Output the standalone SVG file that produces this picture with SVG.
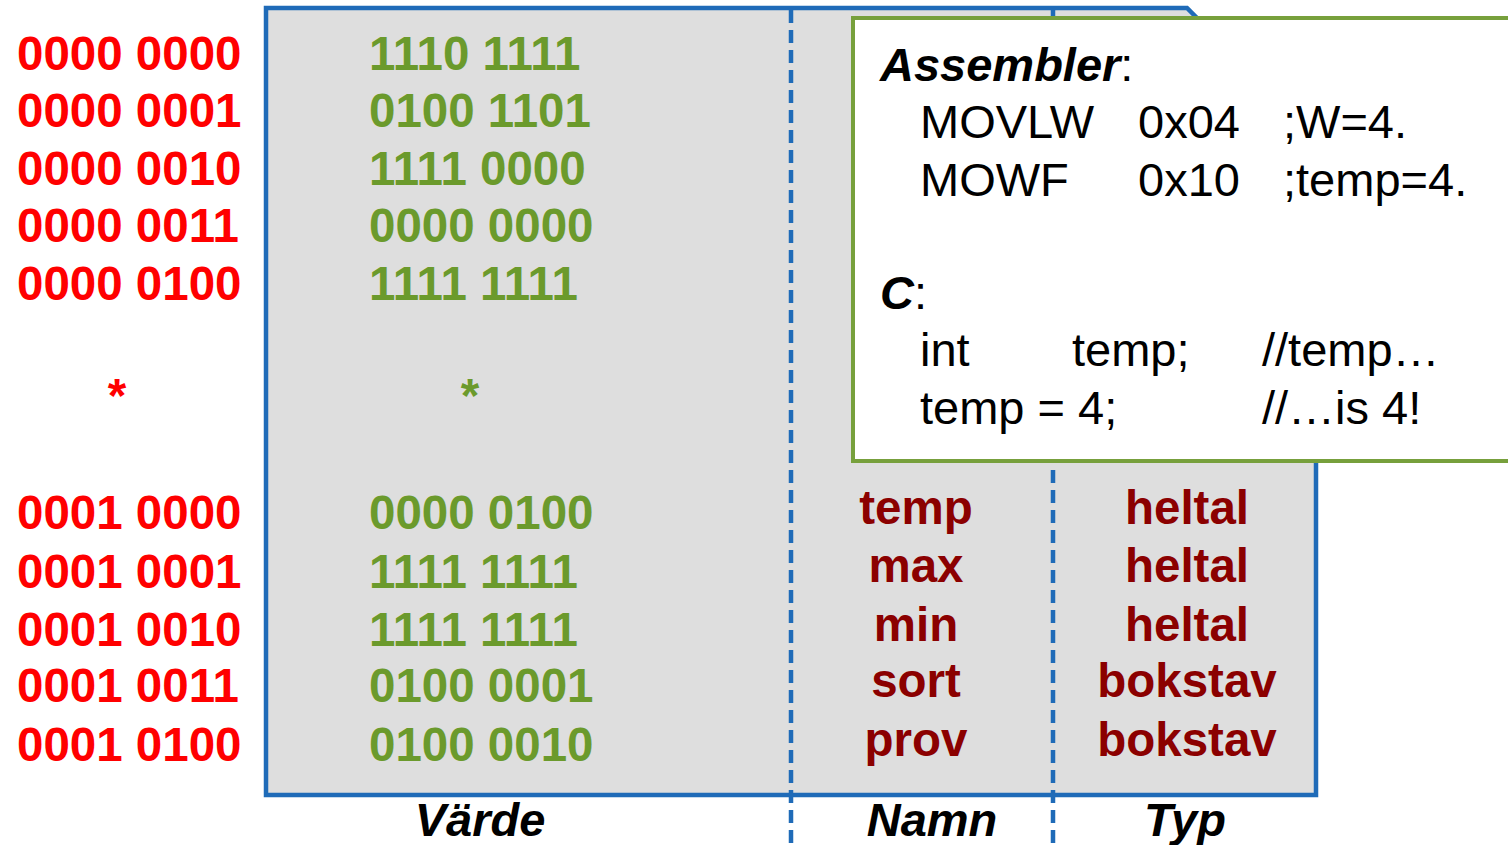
<svg xmlns="http://www.w3.org/2000/svg" width="1508" height="845" viewBox="0 0 1508 845">
  <style>
    .addr { font: bold 47.5px "Liberation Sans", Arial, sans-serif; fill: #ff0000; }
    .val { font: bold 47.5px "Liberation Sans", Arial, sans-serif; fill: #6b9a2c; }
    .name { font: bold 47.5px "Liberation Sans", Arial, sans-serif; fill: #8b0000; text-anchor: middle; }
    .head { font: bold italic 47px "Liberation Sans", Arial, sans-serif; fill: #000; text-anchor: middle; }
    .code { font: 47px "Liberation Sans", Arial, sans-serif; fill: #000; }
    .codeb { font-weight: bold; font-style: italic; }
    .divider { stroke: #1f6bb8; stroke-width: 4.5; stroke-dasharray: 13 7; fill: none; }
  </style>

  <!-- memory table background (top-right corner tucked under the code box) -->
  <g id="memory-table">
    <polygon points="266,8 1187,8 1203,24 1316,24 1316,795 266,795" fill="#dedede" stroke="#1f6bb8" stroke-width="4.5"/>
  </g>

  <!-- column dividers -->
  <g id="connectors">
    <line class="divider" x1="791" y1="10" x2="791" y2="845"/>
    <line class="divider" x1="1053" y1="10" x2="1053" y2="845"/>
  </g>

  <!-- addresses -->
  <g id="addresses">
    <text class="addr" x="17" y="70">0000 0000</text>
    <text class="addr" x="17" y="127">0000 0001</text>
    <text class="addr" x="17" y="185">0000 0010</text>
    <text class="addr" x="17" y="242">0000 0011</text>
    <text class="addr" x="17" y="300">0000 0100</text>
    <text class="addr" x="117" y="412" text-anchor="middle">*</text>
    <text class="addr" x="17" y="529">0001 0000</text>
    <text class="addr" x="17" y="588">0001 0001</text>
    <text class="addr" x="17" y="646">0001 0010</text>
    <text class="addr" x="17" y="702">0001 0011</text>
    <text class="addr" x="17" y="761">0001 0100</text>
  </g>

  <!-- stored values -->
  <g id="values">
    <text class="val" x="369" y="70">1110 1111</text>
    <text class="val" x="369" y="127">0100 1101</text>
    <text class="val" x="369" y="185">1111 0000</text>
    <text class="val" x="369" y="242">0000 0000</text>
    <text class="val" x="369" y="300">1111 1111</text>
    <text class="val" x="470" y="412" text-anchor="middle">*</text>
    <text class="val" x="369" y="529">0000 0100</text>
    <text class="val" x="369" y="588">1111 1111</text>
    <text class="val" x="369" y="646">1111 1111</text>
    <text class="val" x="369" y="702">0100 0001</text>
    <text class="val" x="369" y="761">0100 0010</text>
  </g>

  <!-- variable names -->
  <g id="names">
    <text class="name" x="916" y="524">temp</text>
    <text class="name" x="916" y="582">max</text>
    <text class="name" x="916" y="641">min</text>
    <text class="name" x="916" y="697">sort</text>
    <text class="name" x="916" y="756">prov</text>
  </g>

  <!-- variable types -->
  <g id="types">
    <text class="name" x="1187" y="524">heltal</text>
    <text class="name" x="1187" y="582">heltal</text>
    <text class="name" x="1187" y="641">heltal</text>
    <text class="name" x="1187" y="697">bokstav</text>
    <text class="name" x="1187" y="756">bokstav</text>
  </g>

  <!-- column headings -->
  <g id="headings">
    <text class="head" x="480" y="836">Värde</text>
    <text class="head" x="932" y="836">Namn</text>
    <text class="head" x="1185" y="836">Typ</text>
  </g>

  <!-- code callout -->
  <g id="code-box">
    <rect x="853" y="18" width="670" height="443" fill="#ffffff" stroke="#77a03c" stroke-width="4"/>
    <text class="code" x="880" y="81"><tspan class="codeb">Assembler</tspan>:</text>
    <text class="code" x="920" y="138">MOVLW</text>
    <text class="code" x="1138" y="138">0x04</text>
    <text class="code" x="1283" y="138">;W=4.</text>
    <text class="code" x="920" y="196">MOWF</text>
    <text class="code" x="1138" y="196">0x10</text>
    <text class="code" x="1283" y="196">;temp=4.</text>
    <text class="code" x="880" y="309"><tspan class="codeb">C</tspan>:</text>
    <text class="code" x="920" y="366">int</text>
    <text class="code" x="1072" y="366">temp;</text>
    <text class="code" x="1262" y="366">//temp…</text>
    <text class="code" x="920" y="424">temp = 4;</text>
    <text class="code" x="1262" y="424">//…is 4!</text>
  </g>
</svg>
